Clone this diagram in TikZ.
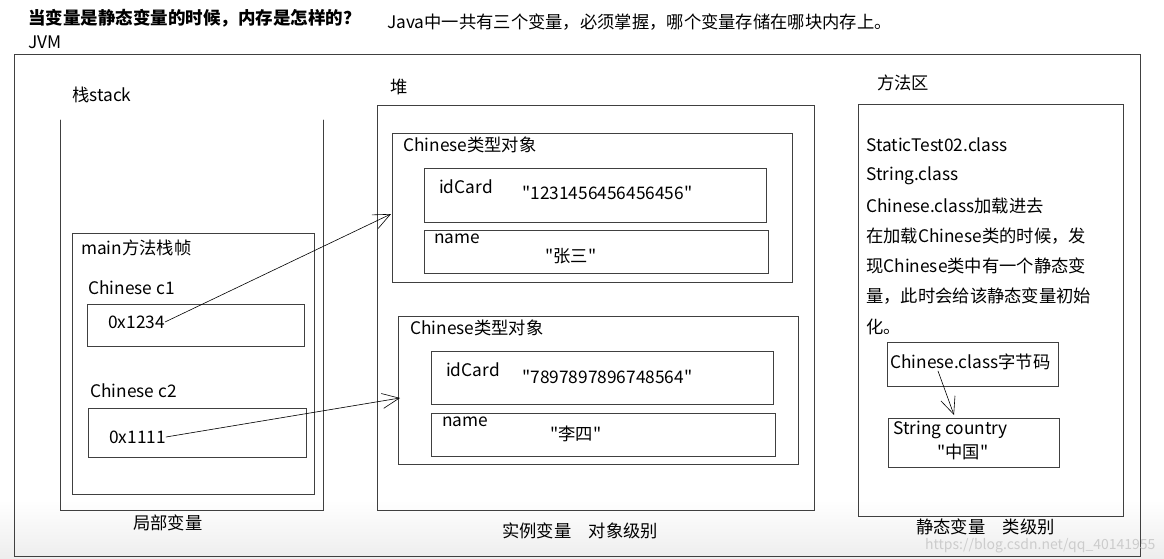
\documentclass[tikz,border=0pt]{standalone}
\usepackage{fontspec}
\setmainfont{Noto Sans CJK SC}[Ligatures=TeXOff]
\usetikzlibrary{arrows.meta}
\begin{document}
\begin{tikzpicture}[x=1pt,y=-1pt,line cap=round,>={Straight Barb[length=17pt,width=15pt]}]
 \tikzset{box/.style={draw=black!75,line width=0.8pt,rectangle,inner sep=0pt,anchor=north west},
 txt/.style={anchor=west,inner sep=0pt,font=\fontsize{17.3}{20}\selectfont},
 ptr/.style={->,line width=0.6pt}}
 \useasboundingbox (0,0) rectangle (1164,559);
 \fill[top color=white,bottom color=black!7] (0,500) rectangle (1164,559);
 % titles
 \node[txt,font=\fontsize{17.5}{20}\selectfont\bfseries] (title) at (28,18) {当变量是静态变量的时候，内存是怎样的？};
 \node[txt] (jvm) at (28,42) {JVM};
 \node[txt] (note) at (387,22) {Java中一共有三个变量，必须掌握，哪个变量存储在哪块内存上。};
 \node[box,minimum width=1126,minimum height=502] (jvmbox) at (14,54) {};
 % stack
 \node[txt] (stacklbl) at (72,95) {栈stack};
 \draw[black!75,line width=0.8pt] (60,120) |- (323,510) -- (323,120);
 \node[box,minimum width=242,minimum height=261] (frame) at (72,233) {};
 \node[txt] (framelbl) at (81,248) {main方法栈帧};
 \node[txt] (c1lbl) at (88,288) {Chinese c1};
 \node[box,minimum width=217,minimum height=42] (c1box) at (87,304) {};
 \node[txt] (c1) at (108,322) {0x1234};
 \node[txt] (c2lbl) at (90,391) {Chinese c2};
 \node[box,minimum width=218,minimum height=49] (c2box) at (88,408) {};
 \node[txt] (c2) at (109,437) {0x1111};
 \node[txt] (stackcap) at (133,523) {局部变量};
 % heap
 \node[txt] (heaplbl) at (390,87) {堆};
 \node[box,minimum width=437,minimum height=405] (heap) at (377,105) {};
 \node[box,minimum width=400,minimum height=149] (obja) at (392,133) {};
 \node[txt] (objalbl) at (403,145) {Chinese类型对象};
 \node[box,minimum width=342,minimum height=54] (ida) at (424,168) {};
 \node[txt] (idalbl) at (439,187) {idCard};
 \node[txt] (idaval) at (522,193) {"1231456456456456"};
 \node[box,minimum width=344,minimum height=43] (namea) at (424,230) {};
 \node[txt] (namealbl) at (434,239) {name};
 \node[txt] (nameaval) at (545,256) {"张三"};
 \node[box,minimum width=400,minimum height=148] (objb) at (398,316) {};
 \node[txt] (objblbl) at (410,328) {Chinese类型对象};
 \node[box,minimum width=342,minimum height=53] (idb) at (431,351) {};
 \node[txt] (idblbl) at (446,370) {idCard};
 \node[txt] (idbval) at (522,377) {"7897897896748564"};
 \node[box,minimum width=344,minimum height=43] (nameb) at (431,413) {};
 \node[txt] (nameblbl) at (442,422) {name};
 \node[txt] (namebval) at (550,434) {"李四"};
 \node[txt] (heapcap) at (502,531) {实例变量\quad 对象级别};
 % method area
 \node[txt] (arealbl) at (877,83) {方法区};
 \node[box,minimum width=265,minimum height=412] (area) at (858,104) {};
 \foreach \t [count=\i] in {StaticTest02.class,String.class,Chinese.class加载进去,
 在加载Chinese类的时候，发,现Chinese类中有一个静态变,量，此时会给该静态变量初始,化。}
 \node[txt] (line\i) at (866,{145+30.3*(\i-1)}) {\t};
 \node[box,minimum width=171,minimum height=44] (code) at (887,342) {};
 \node[txt] (codelbl) at (890,362) {Chinese.class字节码};
 \node[box,minimum width=171,minimum height=49] (country) at (888,418) {};
 \node[txt] (countrylbl) at (893,430) {String country};
 \node[txt] (countryval) at (937,452) {"中国"};
 \node[txt] (areacap) at (916,527) {静态变量\quad 类级别};
 \node[txt,text=black!20,font=\fontsize{14}{16}\selectfont] (mark) at (925,546) {https://blog.csdn.net/qq\_40141955};
 % references
 \coordinate (ta) at (391,214);
 \coordinate (tb) at (400,398);
 \coordinate (from) at (938,371);
 \coordinate (tc) at (954,415);
 \draw[ptr] (c1.east) -- (ta);
 \draw[ptr] (c2.east) -- (tb);
 \draw[ptr] (from) -- (tc);
\end{tikzpicture}
\end{document}
